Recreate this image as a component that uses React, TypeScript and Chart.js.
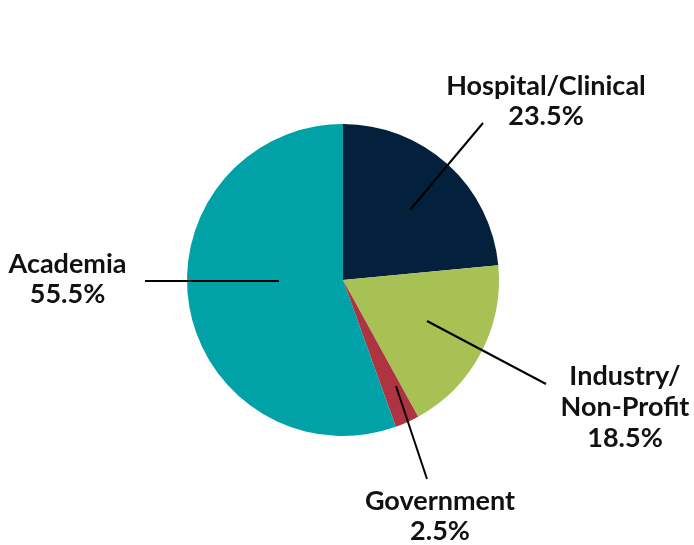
import React, { useEffect, useRef } from "react";
import { Chart, registerables } from "chart.js";

Chart.register(...registerables);

const categories = ["Hospital/Clinical", "Industry/Non-Profit", "Government", "Academia"];
const values = [23.5, 18.5, 2.5, 55.5];
const colors = ["#03213C", "#A7C155", "#AD3440", "#00A2A7"];
const labelLines = [
  ["Hospital/Clinical", "23.5%"],
  ["Industry/", "Non-Profit", "18.5%"],
  ["Government", "2.5%"],
  ["Academia", "55.5%"],
];

// leader lines and label anchors, as pixel offsets from the pie centre
const leaderOpts = [
  { from: [67, -70], to: [140, -157], text: [203, -185], gap: 30 },
  { from: [84, 41], to: [203, 104], text: [282, 105], gap: 31 },
  { from: [53, 106], to: [84, 199], text: [97, 230], gap: 30 },
  { from: [-64, 1], to: [-198, 1], text: [-275.5, -7], gap: 30 },
];

const labelPlugin = {
  id: "leaderLabels",
  afterDraw(chart: any) {
    const meta = chart.getDatasetMeta(0);
    const arc = meta.data[0];
    if (!arc) return;
    const cx = arc.x;
    const cy = arc.y;
    const ctx = chart.ctx;
    ctx.save();
    ctx.strokeStyle = "#000000";
    ctx.lineWidth = 2;
    leaderOpts.forEach((o, i) => {
      ctx.beginPath();
      ctx.moveTo(cx + o.from[0], cy + o.from[1]);
      ctx.lineTo(cx + o.to[0], cy + o.to[1]);
      ctx.stroke();
      ctx.fillStyle = "#111111";
      ctx.font = "bold 27px Lato";
      ctx.textAlign = "center";
      ctx.textBaseline = "alphabetic";
      labelLines[i].forEach((t, j) => {
        ctx.fillText(t, cx + o.text[0], cy + o.text[1] + j * o.gap);
      });
    });
    ctx.restore();
  },
};

export default function App() {
  const ref = useRef<HTMLCanvasElement | null>(null);
  useEffect(() => {
    document.body.style.margin = "0";
    const chart = new Chart(ref.current as HTMLCanvasElement, {
      type: "pie",
      data: {
        labels: categories,
        datasets: [
          {
            data: values,
            backgroundColor: colors,
            borderWidth: 0,
          },
        ],
      },
      options: {
        responsive: false,
        animation: false,
        layout: { padding: { left: 187, right: 195, top: 124, bottom: 109 } },
        plugins: {
          legend: { display: false },
          tooltip: { enabled: false },
        },
      },
      plugins: [labelPlugin],
    });
    return () => chart.destroy();
  }, []);
  return (
    <div style={{ width: 694, height: 545, background: "#ffffff" }}>
      <canvas ref={ref} width={694} height={545} style={{ display: "block" }} />
    </div>
  );
}
